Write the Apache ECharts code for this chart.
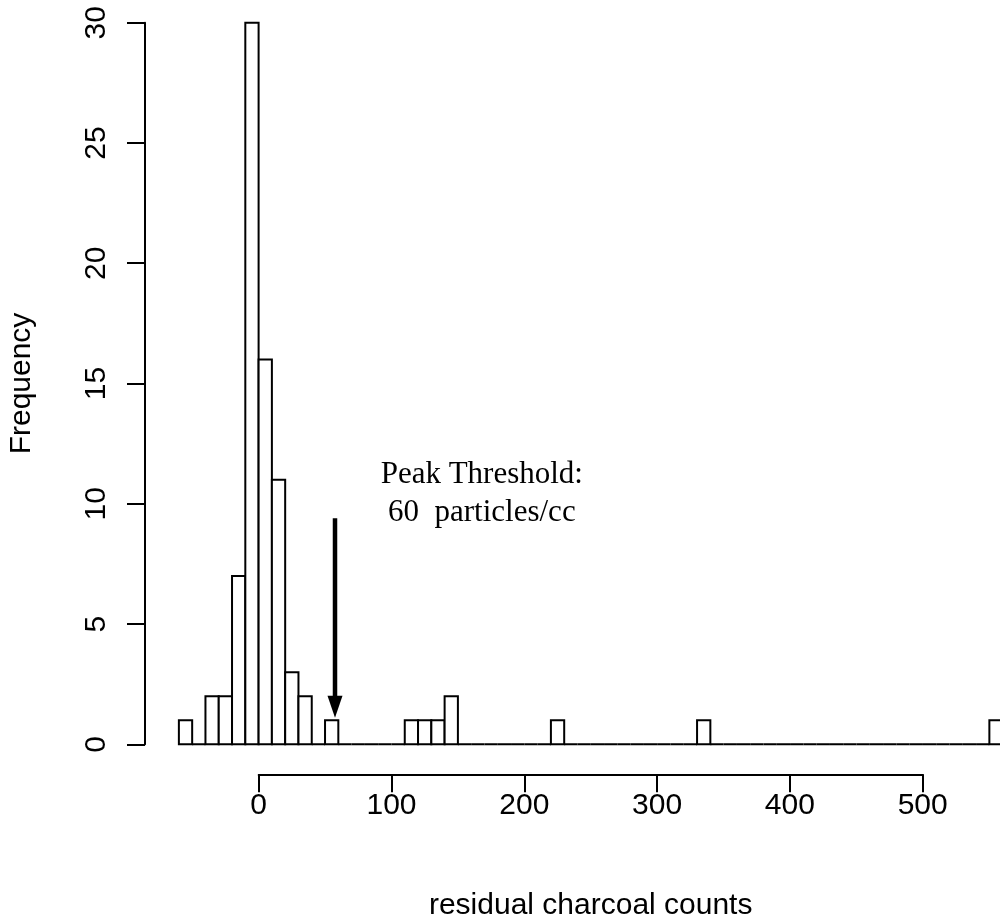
<!DOCTYPE html>
<html lang="en">
<head>
	<meta charset="UTF-8">
	<title>residual charcoal counts</title>
	<style>
		html, body { margin: 0; padding: 0; background: #fff; }
		#box { width: 1000px; height: 923px; }
	</style>
</head>
<body>

	<div id="box"></div>

	<script src="https://cdn.jsdelivr.net/npm/echarts@6/dist/echarts.min.js"></script>
	<script>

		// histogram bins, width 10
		var binWidth = 10;
		var binStarts = [
			-60, -50, -40, -30, -20, -10, 0, 10, 20, 30, 40, 50,
			60, 70, 80, 90, 100, 110, 120, 130, 140, 150, 160, 170,
			180, 190, 200, 210, 220, 230, 240, 250, 260, 270, 280, 290,
			300, 310, 320, 330, 340, 350, 360, 370, 380, 390, 400, 410,
			420, 430, 440, 450, 460, 470, 480, 490, 500, 510, 520, 530,
			540, 550
		];
		var counts = [
			1, 0, 2, 2, 7, 30, 16, 11, 3, 2, 0, 1,
			0, 0, 0, 0, 0, 1, 1, 1, 2, 0, 0, 0,
			0, 0, 0, 0, 1, 0, 0, 0, 0, 0, 0, 0,
			0, 0, 0, 1, 0, 0, 0, 0, 0, 0, 0, 0,
			0, 0, 0, 0, 0, 0, 0, 0, 0, 0, 0, 0,
			0, 1
		];

		// threshold arrow: x, top, tip
		var arrowData = [[57.5, 9.4, 1.1]];
		// annotation text anchor (x, y)
		var noteData = [[168, 10.4]];
		var noteText = 'Peak Threshold:\n60  particles/cc';

		var sans = 'Liberation Sans, Arial, sans-serif';
		var serif = 'Liberation Serif, Times New Roman, serif';

		var barData = binStarts.map(function(s, i) {
			return [s, s + binWidth, counts[i]];
		});

		var myChart = echarts.init(document.getElementById('box'), null, {renderer: 'canvas'});

		var option = {
			animation: false,
			backgroundColor: '#fff',
			grid: [
				// plot area
				{left: 145, right: 0, top: 22.7, bottom: 178.7},
				// y axis (0 - 30)
				{left: 145, width: 1, top: 22.7, bottom: 178.7},
				// x axis (0 - 500)
				{left: 258.7, width: 664, bottom: 148.7, height: 10}
			],
			xAxis: [
				{gridIndex: 0, type: 'value', min: -85.5, max: 558, show: false},
				{gridIndex: 1, type: 'value', show: false},
				{
					gridIndex: 2, type: 'value', min: 0, max: 500, interval: 100,
					position: 'bottom',
					name: 'residual charcoal counts',
					nameLocation: 'middle',
					nameGap: 116,
					nameTextStyle: {color: '#000', fontSize: 30, fontFamily: sans},
					axisLine: {show: true, lineStyle: {color: '#000', width: 2}},
					axisTick: {show: true, length: 18, lineStyle: {color: '#000', width: 2}},
					axisLabel: {color: '#000', fontSize: 30, fontFamily: sans, margin: 16},
					splitLine: {show: false}
				}
			],
			yAxis: [
				{gridIndex: 0, type: 'value', min: 0, max: 30, show: false},
				{
					gridIndex: 1, type: 'value', min: 0, max: 30, interval: 5,
					position: 'left',
					name: 'Frequency',
					nameLocation: 'middle',
					nameRotate: 90,
					nameGap: 108,
					nameTextStyle: {color: '#000', fontSize: 30, fontFamily: sans},
					axisLine: {show: true, lineStyle: {color: '#000', width: 2}},
					axisTick: {show: true, length: 18, lineStyle: {color: '#000', width: 2}},
					axisLabel: {color: '#000', fontSize: 30, fontFamily: sans, margin: 33, rotate: 90},
					splitLine: {show: false}
				},
				{gridIndex: 2, type: 'value', show: false}
			],
			series: [
				{
					type: 'custom',
					xAxisIndex: 0,
					yAxisIndex: 0,
					clip: false,
					data: barData,
					encode: {x: [0, 1], y: 2},
					renderItem: function(params, api) {
						var p0 = api.coord([api.value(0), api.value(2)]);
						var p1 = api.coord([api.value(1), 0]);
						return {
							type: 'rect',
							shape: {x: p0[0], y: p0[1], width: p1[0] - p0[0], height: p1[1] - p0[1]},
							style: {fill: '#fff', stroke: '#000', lineWidth: 2}
						};
					}
				},
				{
					type: 'custom',
					xAxisIndex: 0,
					yAxisIndex: 0,
					clip: false,
					data: arrowData,
					renderItem: function(params, api) {
						var top = api.coord([api.value(0), api.value(1)]);
						var tip = api.coord([api.value(0), api.value(2)]);
						var headLen = 22, headHalf = 7.5;
						return {
							type: 'group',
							children: [
								{
									type: 'line',
									shape: {x1: top[0], y1: top[1], x2: tip[0], y2: tip[1] - headLen + 2},
									style: {stroke: '#000', lineWidth: 4.5}
								},
								{
									type: 'polygon',
									shape: {points: [[tip[0], tip[1]], [tip[0] - headHalf, tip[1] - headLen], [tip[0] + headHalf, tip[1] - headLen]]},
									style: {fill: '#000'}
								}
							]
						};
					}
				},
				{
					type: 'custom',
					xAxisIndex: 0,
					yAxisIndex: 0,
					clip: false,
					data: noteData,
					renderItem: function(params, api) {
						var p = api.coord([api.value(0), api.value(1)]);
						return {
							type: 'text',
							x: p[0],
							y: p[1],
							style: {
								text: noteText,
								fill: '#000',
								fontSize: 31,
								fontFamily: serif,
								lineHeight: 38,
								align: 'center',
								verticalAlign: 'middle'
							}
						};
					}
				}
			]
		};

		myChart.setOption(option);

	</script>
</body>
</html>
